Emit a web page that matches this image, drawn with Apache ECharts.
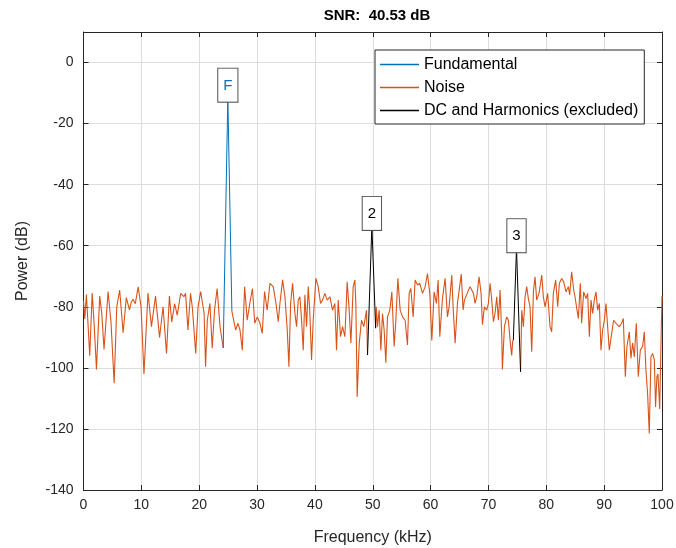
<!DOCTYPE html>
<html><head><meta charset="utf-8">
<script src="https://cdn.jsdelivr.net/npm/echarts@6/dist/echarts.min.js"></script>
<style>html,body{margin:0;padding:0;background:#fff}#c{width:676px;height:548px}</style>
</head><body><div id="c"></div>
<script>
const titleText = 'SNR:  40.53 dB';
const xTicks = [0,10,20,30,40,50,60,70,80,90,100];
const yTicks = [-140,-120,-100,-80,-60,-40,-20,0];

const noiseFreq = [0,0.22,0.5,0.8,1.08,1.5,1.85,2.24,2.8,3.15,3.55,4.25,4.75,5.3,5.75,6.25,6.85,7.4,7.95,8.25,8.55,8.95,9.45,9.95,10.45,11.15,11.75,12.45,13.15,13.75,14.35,14.85,15.25,15.75,16.2,16.8,17.35,17.65,18.05,18.5,18.8,19.4,19.8,20.25,20.85,21.1,21.4,21.85,22.25,22.65,23.1,23.6,24.15,
 24.9,
 25.65,25.9,26.3,26.7,27.05,27.45,27.85,28.3,28.75,29.2,29.6,30.05,30.5,30.9,31.3,31.75,32.23,32.8,33.27,33.67,33.95,34.42,34.82,35.22,35.51,35.8,36.14,36.55,36.83,37.12,37.41,37.7,37.98,38.27,38.56,38.85,39.13,39.42,39.71,40.17,40.57,40.98,41.32,41.73,42.13,42.59,43.05,43.45,43.74,44.03,44.43,44.78,45.18,45.58,45.93,46.22,46.62,46.91,47.08,47.31,47.66,48.06,48.46,48.92,49.1,
 49.85,
 50.5,50.6,50.82,51.11,51.4,51.69,51.97,52.26,52.55,52.95,53.3,53.7,53.99,54.34,54.74,55.14,55.6,56.0,56.29,56.58,56.98,57.33,57.73,58.13,58.6,59.06,59.46,59.86,60.21,60.61,61.01,61.3,61.59,62.05,62.51,62.91,63.2,63.66,63.89,64.24,64.64,65.3,65.62,65.85,66.08,66.43,66.83,67.12,67.4,67.69,67.98,68.38,68.73,68.96,69.3,69.71,69.99,70.28,70.57,70.86,71.14,71.43,71.72,72.01,72.3,72.41,72.76,73.16,73.45,73.74,74.02,74.2,
 74.85,
 75.55,75.75,76.04,76.33,76.61,76.9,77.19,77.48,77.77,78.05,78.34,78.74,79.21,79.49,79.78,80.24,80.64,80.93,81.22,81.62,81.97,82.26,82.66,83.0,83.41,83.81,84.04,84.39,84.73,84.96,85.31,85.54,85.88,86.11,86.46,86.86,87.15,87.44,87.73,88.01,88.3,88.59,88.88,89.17,89.45,89.74,90.03,90.32,90.6,90.89,91.3,91.64,92.04,92.33,92.62,93.02,93.31,93.66,93.94,94.35,94.63,94.92,95.21,95.56,95.9,96.25,96.65,96.94,97.22,97.51,97.8,98.09,98.38,98.67,98.89,99.12,99.3,99.6,99.85,100];
const noisePower = [-78,-84,-76,-76.5,-96,-75.5,-86,-100.5,-76.5,-82,-94,-75,-85,-105,-80,-74.5,-88.5,-77,-81,-78.5,-77.5,-79,-73.5,-80,-102,-75.5,-86.5,-76.5,-90,-80,-95.3,-76.5,-85,-79,-82.7,-75.6,-76.7,-75.6,-87.6,-75.6,-80,-95.3,-80,-75,-82.2,-99.6,-84.4,-78.9,-93.6,-81.1,-74,-86.5,-93.5,
 null,
 -81.5,-81.1,-87.6,-85.4,-87.6,-94.2,-73.4,-84.4,-78.9,-74,-85.4,-83.3,-85.4,-88.7,-75,-81.1,-72.3,-73.4,-78.9,-84.9,-78.9,-71.2,-76.7,-87.6,-99.6,-78.9,-72.3,-82.2,-86.5,-77.8,-76.7,-84.4,-94.2,-76.1,-86.5,-73.4,-82.2,-97.4,-84.4,-70.7,-73.4,-78.9,-77.8,-75.6,-77.8,-76.7,-81.1,-78.9,-94.2,-77.8,-89.8,-86.5,-89.8,-71.8,-81.1,-91.9,-73.4,-71.2,-78.9,-109.5,-91.9,-84.4,-86.5,-81.1,-95.8,
 null,
 -87,-80,-86.5,-81.1,-94.2,-82.2,-87.6,-98.3,-83.3,-81.1,-75.1,-93,-84.4,-70.7,-81.1,-83.3,-84.4,-92.5,-75.6,-74,-83.3,-71.2,-72.9,-72.3,-75.6,-73.4,-69.1,-75.6,-91,-75.1,-78.9,-71.2,-89.8,-77.3,-70.7,-83.3,-80,-69.6,-80,-91.9,-78.9,-69.3,-81,-77.8,-78.4,-75.1,-73.4,-73.9,-75.6,-78.9,-76.7,-70.2,-75.6,-85.9,-80,-81.1,-78.9,-72.3,-77.8,-84.9,-82.2,-76.7,-84.4,-74.5,-89.8,-100.5,-86.5,-83.3,-84.4,-90.9,-95.9,-91,
 null,
 -101.3,-81.1,-86.5,-76.7,-73.4,-77.3,-80,-94.7,-75.1,-70.2,-77.8,-75.6,-69.6,-76.7,-80,-75.6,-86.5,-88.2,-75.6,-71.2,-80,-72.3,-70.7,-71.8,-75.1,-73.4,-76.1,-68.5,-74.5,-76.7,-81.1,-83.8,-72.3,-85.4,-75.1,-77.3,-75.6,-89.8,-77.8,-82.2,-77.8,-75.1,-81.1,-78.9,-94.2,-87.6,-84.4,-78.9,-86.5,-94.2,-88.7,-84.4,-85.4,-84.9,-86.5,-85.4,-83.8,-102.9,-93,-88.2,-96.9,-91.9,-96.4,-85.4,-102.9,-94.2,-93,-88.2,-100.7,-108.4,-121.5,-96.4,-95.3,-97.4,-112.8,-102.9,-102,-113.5,-90,-76.5];

const fundFreq = [24.15, 24.95, 25.65];
const fundPower = [-93.5, -11.5, -81.5];
const fundLabel = 'F';

const harmFreq = [49.1, 49.85, 50.5, null, 74.3, 74.85, 75.55];
const harmPower = [-95.8, -53.5, -87, null, -91, -60.8, -101.3];
const harmLabels = {1: '2', 5: '3'};

const FONT = '"Liberation Sans", Arial, Helvetica, sans-serif';
const AXC = '#262626';

const boxLabel = (txt, color) => ({
  show: true, position: 'top', distance: -4, formatter: txt,
  color: color, fontFamily: FONT, fontSize: 15, lineHeight: 16,
  borderColor: '#555', borderWidth: 1, padding: [9, 5, 8, 5], backgroundColor: '#fff'
});

const noiseData = noiseFreq.map((f, i) => [f, noisePower[i]]);
const fundData = fundFreq.map((f, i) => {
  const d = {value: [f, fundPower[i]]};
  if (fundPower[i] === Math.max(...fundPower)) d.label = boxLabel(fundLabel, '#0072BD');
  return d;
});
const harmData = harmFreq.map((f, i) => {
  if (f === null) return {value: [null, null]};
  const d = {value: [f, harmPower[i]]};
  if (harmLabels[i]) d.label = boxLabel(harmLabels[i], '#000');
  return d;
});

const chart = echarts.init(document.getElementById('c'), null, {renderer: 'canvas'});
const axisCommon = {
  axisLine: {show: true, onZero: false, lineStyle: {color: AXC, width: 1}},
  axisTick: {show: true, inside: true, length: 5, lineStyle: {color: AXC}},
};
chart.setOption({
  animation: false,
  backgroundColor: '#fff',
  title: {text: titleText, left: 372, top: 3, textAlign: 'center',
    textStyle: {fontFamily: FONT, fontSize: 15, fontWeight: 'bold', color: '#000'}},
  legend: {
    orient: 'vertical', left: 375, top: 50,
    backgroundColor: '#fff', borderColor: AXC, borderWidth: 1,
    padding: [5, 6, 4, 5], itemGap: 4, itemWidth: 39, itemHeight: 1.5, icon: 'rect',
    textStyle: {fontFamily: FONT, fontSize: 16, color: '#000', lineHeight: 19},
    data: ['Fundamental', 'Noise', 'DC and Harmonics (excluded)']
  },
  grid: {left: 83.5, right: 14, top: 32, bottom: 58, containLabel: false, outerBoundsMode: 'none'},
  xAxis: [{
    type: 'value', min: 0, max: 100, interval: 10,
    name: 'Frequency (kHz)', nameLocation: 'middle', nameGap: 40,
    nameTextStyle: {fontFamily: FONT, fontSize: 16, color: AXC},
    axisLabel: {fontFamily: FONT, fontSize: 14, color: AXC, margin: 8,
      formatter: v => xTicks.includes(v) ? String(v) : ''},
    splitLine: {show: true, lineStyle: {color: '#dedede', width: 1}},
    ...axisCommon
  }, {
    type: 'value', min: 0, max: 100, interval: 10, position: 'top',
    axisLabel: {show: false}, splitLine: {show: false}, ...axisCommon
  }],
  yAxis: [{
    type: 'value', min: -140, max: 10, interval: 20,
    name: 'Power (dB)', nameLocation: 'middle', nameGap: 53,
    nameTextStyle: {fontFamily: FONT, fontSize: 16, color: AXC},
    axisLabel: {fontFamily: FONT, fontSize: 14, color: AXC, margin: 10, showMaxLabel: false,
      formatter: v => yTicks.includes(v) ? String(v) : ''},
    splitLine: {show: true, lineStyle: {color: '#dedede', width: 1}},
    ...axisCommon
  }, {
    type: 'value', min: -140, max: 10, interval: 20, position: 'right',
    axisLabel: {show: false}, splitLine: {show: false}, ...axisCommon
  }],
  series: [
    {name: 'Noise', type: 'line', data: noiseData, showSymbol: false, symbol: 'none',
      connectNulls: false, lineStyle: {color: '#D95319', width: 1.1}, itemStyle: {color: '#D95319'}, z: 2},
    {name: 'Fundamental', type: 'line', data: fundData, showSymbol: true, symbol: 'circle', symbolSize: 0.01,
      lineStyle: {color: '#0072BD', width: 1}, itemStyle: {color: '#0072BD'}, z: 3},
    {name: 'DC and Harmonics (excluded)', type: 'line', data: harmData, showSymbol: true, symbol: 'circle', symbolSize: 0.01,
      connectNulls: false, lineStyle: {color: '#000', width: 1}, itemStyle: {color: '#000'}, z: 3}
  ]
});
</script></body></html>
